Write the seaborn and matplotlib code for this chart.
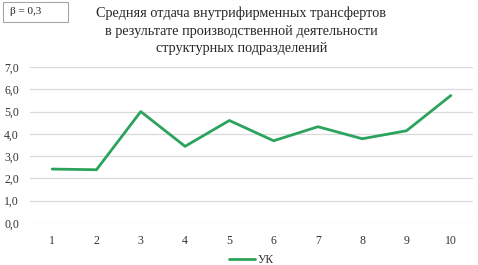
import numpy as np
import pandas as pd
import matplotlib
matplotlib.use("Agg")
import matplotlib.pyplot as plt
import matplotlib.patches as mpatches
import seaborn as sns

# data
periods = [1, 2, 3, 4, 5, 6, 7, 8, 9, 10]
uk_values = [2.42, 2.39, 5.0, 3.44, 4.6, 3.69, 4.32, 3.78, 4.14, 5.72]
series_name = "УК"
title = ("Средняя отдача внутрифирменных трансфертов\n"
         "в результате производственной деятельности\n"
         "структурных подразделений")
beta_label = "β = 0,3"

df = pd.DataFrame({"period": periods, "value": uk_values, "series": series_name})

sns.set_style("white")
plt.rcParams['font.family'] = ['Liberation Serif', 'DejaVu Serif']

fig = plt.figure(figsize=(4.78, 2.65), dpi=100)
ax = fig.add_axes([30 / 478, 42 / 265, 443 / 478, 156 / 265])

green = "#2ca35c"
sns.lineplot(data=df, x="period", y="value", hue="series", palette=[green],
             linewidth=2, ax=ax, legend=True)

ax.set_xlim(0.5, 10.5)
ax.set_ylim(0, 7)
ax.set_xticks(periods)
ax.set_xticklabels([str(p) for p in periods])
yt = np.arange(0, 8, 1)
ax.set_yticks(yt)
ax.set_yticklabels([f"{v:.1f}".replace(".", ",") for v in yt])
ax.yaxis.grid(True, color="#d9d9d9", linewidth=0.9)
ax.set_axisbelow(True)
for s in ax.spines.values():
    s.set_visible(False)
ax.tick_params(axis="both", length=0, labelsize=8.5, colors="#333333")
ax.tick_params(axis="x", pad=9)
ax.tick_params(axis="y", pad=8)
ax.set_xlabel("")
ax.set_ylabel("")

leg = ax.legend(loc="upper center", bbox_to_anchor=(0.5, -0.13), frameon=False,
                fontsize=8.5, handlelength=2.2, handletextpad=0.3)
for t in leg.get_texts():
    t.set_color("#333333")

fig.text(0.505, 0.975, title, ha="center", va="top", fontsize=10.3,
         linespacing=1.45, color="#262626")

# beta box in the top-left corner
fig.patches.append(mpatches.Rectangle((3 / 478, 1 - 22 / 265), 65 / 478, 20 / 265,
                                      transform=fig.transFigure, facecolor="white",
                                      edgecolor="#a6a6a6", linewidth=0.8))
fig.text(10 / 478, 1 - 12 / 265, beta_label, ha="left", va="center", fontsize=8,
         color="#262626")

fig.savefig("out.png", dpi=100)
